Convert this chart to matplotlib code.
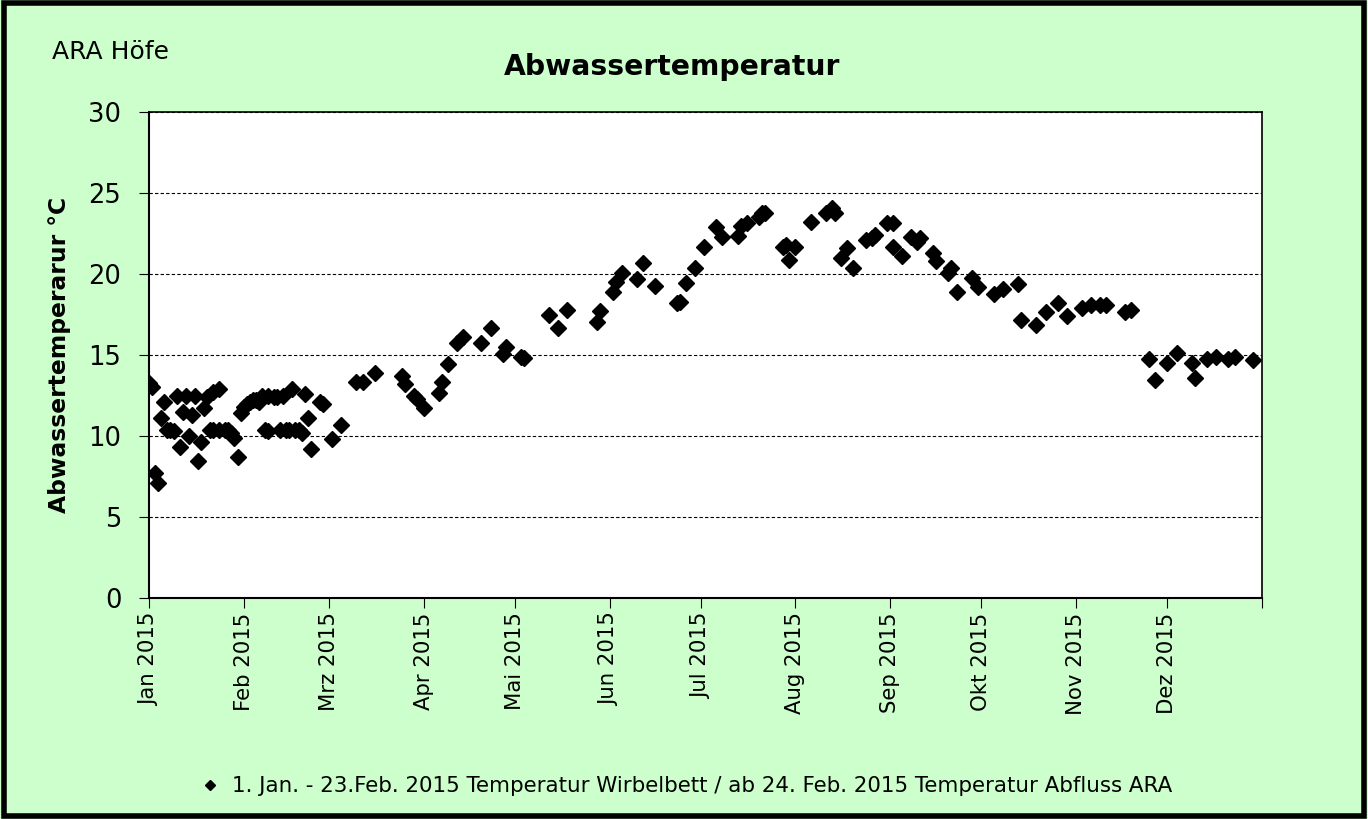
import numpy as np
import pandas as pd
import matplotlib.pyplot as plt
from matplotlib.patches import Rectangle

# Daten
datum = [
    '2015-01-01', '2015-01-02', '2015-01-03', '2015-01-04', '2015-01-05', '2015-01-06',
    '2015-01-07', '2015-01-08', '2015-01-09', '2015-01-10', '2015-01-11', '2015-01-12',
    '2015-01-13', '2015-01-14', '2015-01-15', '2015-01-16', '2015-01-17', '2015-01-18',
    '2015-01-19', '2015-01-20', '2015-01-21', '2015-01-22', '2015-01-22', '2015-01-24',
    '2015-01-24', '2015-01-26', '2015-01-27', '2015-01-28', '2015-01-29', '2015-01-30',
    '2015-01-31', '2015-02-01', '2015-02-02', '2015-02-03', '2015-02-04', '2015-02-05',
    '2015-02-06', '2015-02-07', '2015-02-08', '2015-02-09', '2015-02-09', '2015-02-11',
    '2015-02-12', '2015-02-13', '2015-02-14', '2015-02-15', '2015-02-16', '2015-02-17',
    '2015-02-18', '2015-02-19', '2015-02-20', '2015-02-21', '2015-02-22', '2015-02-23',
    '2015-02-26', '2015-02-27', '2015-03-02', '2015-03-05', '2015-03-10', '2015-03-12',
    '2015-03-16', '2015-03-25', '2015-03-26', '2015-03-29', '2015-03-30', '2015-04-01',
    '2015-04-06', '2015-04-07', '2015-04-09', '2015-04-12', '2015-04-14', '2015-04-20',
    '2015-04-23', '2015-04-27', '2015-04-28', '2015-05-03', '2015-05-04', '2015-05-12',
    '2015-05-15', '2015-05-18', '2015-05-28', '2015-05-29', '2015-06-02', '2015-06-03',
    '2015-06-05', '2015-06-10', '2015-06-12', '2015-06-16', '2015-06-23', '2015-06-24',
    '2015-06-26', '2015-06-29', '2015-07-02', '2015-07-06', '2015-07-08', '2015-07-13',
    '2015-07-14', '2015-07-16', '2015-07-20', '2015-07-21', '2015-07-22', '2015-07-28',
    '2015-07-29', '2015-07-30', '2015-08-01', '2015-08-06', '2015-08-11', '2015-08-13',
    '2015-08-14', '2015-08-16', '2015-08-18', '2015-08-20', '2015-08-24', '2015-08-26',
    '2015-08-27', '2015-08-31', '2015-09-02', '2015-09-02', '2015-09-05', '2015-09-08',
    '2015-09-10', '2015-09-11', '2015-09-15', '2015-09-16', '2015-09-20', '2015-09-21',
    '2015-09-23', '2015-09-28', '2015-09-30', '2015-10-05', '2015-10-08', '2015-10-13',
    '2015-10-14', '2015-10-19', '2015-10-22', '2015-10-26', '2015-10-29', '2015-11-03',
    '2015-11-06', '2015-11-09', '2015-11-11', '2015-11-17', '2015-11-19', '2015-11-25',
    '2015-11-27', '2015-12-01', '2015-12-04', '2015-12-09', '2015-12-10', '2015-12-14',
    '2015-12-17', '2015-12-21', '2015-12-23', '2015-12-29',
]
temperatur = [
    13.3, 13.0, 7.7, 7.1, 11.1, 12.1,
    10.35, 10.4, 10.3, 12.5, 9.3, 11.5,
    12.5, 10.0, 11.3, 12.5, 8.45, 9.6,
    11.7, 12.4, 10.35, 12.7, 10.35, 12.9,
    10.35, 10.35, 10.35, 10.2, 9.9, 8.7,
    11.4, 11.8, 12.0, 12.1, 12.2, 12.2,
    12.1, 12.5, 10.35, 12.5, 10.3, 12.4,
    12.4, 10.35, 12.5, 10.35, 10.35, 12.9,
    10.35, 10.35, 10.2, 12.6, 11.1, 9.2,
    12.1, 12.0, 9.8, 10.7, 13.35, 13.35,
    13.9, 13.7, 13.2, 12.5, 12.3, 11.7,
    12.65, 13.35, 14.45, 15.75, 16.1, 15.75,
    16.65, 15.05, 15.5, 14.85, 14.8, 17.45,
    16.7, 17.8, 17.05, 17.7, 18.9, 19.5,
    20.05, 19.7, 20.7, 19.25, 18.2, 18.3,
    19.45, 20.35, 21.65, 22.9, 22.3, 22.35,
    22.95, 23.15, 23.5, 23.75, 23.8, 21.65,
    21.8, 20.9, 21.65, 23.2, 23.8, 24.1,
    23.75, 21.0, 21.6, 20.4, 22.1, 22.2,
    22.4, 23.15, 23.15, 21.7, 21.1, 22.3,
    22.0, 22.2, 21.3, 20.8, 20.05, 20.4,
    18.9, 19.75, 19.2, 18.8, 19.05, 19.4,
    17.15, 16.85, 17.65, 18.2, 17.4, 17.9,
    18.1, 18.1, 18.1, 17.65, 17.8, 14.75,
    13.45, 14.5, 15.1, 14.5, 13.6, 14.75,
    14.9, 14.75, 14.9, 14.7,
]
monate = ['Jan', 'Feb', 'Mrz', 'Apr', 'Mai', 'Jun', 'Jul', 'Aug', 'Sep', 'Okt', 'Nov', 'Dez']

df = pd.DataFrame({'Datum': pd.to_datetime(datum), 'Temperatur': temperatur})

gruen = '#CCFFCC'
fig = plt.figure(figsize=(13.68, 8.19), dpi=100, facecolor=gruen)
fig.patches.append(Rectangle((0.003, 0.004), 0.994, 0.992, transform=fig.transFigure,
                             fill=False, edgecolor='black', linewidth=4))

ax = fig.add_axes([0.109, 0.27, 0.8135, 0.593])
ax.set_facecolor('white')
ax.plot(df['Datum'], df['Temperatur'], linestyle='none', marker='D', markersize=7.8,
        color='black',
        label='1. Jan. - 23.Feb. 2015 Temperatur Wirbelbett / ab 24. Feb. 2015 Temperatur Abfluss ARA')

ax.set_xlim(pd.Timestamp('2015-01-01'), pd.Timestamp('2016-01-01'))
ax.set_ylim(0, 30)
ax.set_yticks(range(0, 31, 5))
ax.yaxis.grid(True, linestyle=(0, (3, 2)), color='black', linewidth=0.8)
ax.set_axisbelow(True)

ticks = pd.date_range('2015-01-01', '2016-01-01', freq='MS')
ax.set_xticks(ticks)
ax.set_xticklabels([m + ' 2015' for m in monate] + [''], rotation=90, fontsize=15.3)
ax.tick_params(axis='y', labelsize=18.5, length=7, direction='out', pad=13)
ax.tick_params(axis='x', length=7, direction='out')

for s in ['top', 'right']:
    ax.spines[s].set_linewidth(1.2)
ax.spines['left'].set_linewidth(1.5)
ax.spines['bottom'].set_linewidth(1.5)

ax.set_ylabel('Abwassertemperarur °C', fontsize=16.8, fontweight='bold')
ax.yaxis.set_label_coords(-0.07, 0.5)
fig.text(0.491, 0.918, 'Abwassertemperatur', fontsize=20.3, fontweight='bold', ha='center', va='center')
fig.text(0.038, 0.937, 'ARA Höfe', fontsize=18, ha='left', va='center')

fig.legend(loc='center', bbox_to_anchor=(0.502, 0.04), frameon=False,
           markerscale=0.6, handlelength=0.8, handletextpad=0.6,
           prop={'family': 'DejaVu Sans', 'size': 15.4})

fig.savefig('out.png', dpi=100, facecolor=gruen)
